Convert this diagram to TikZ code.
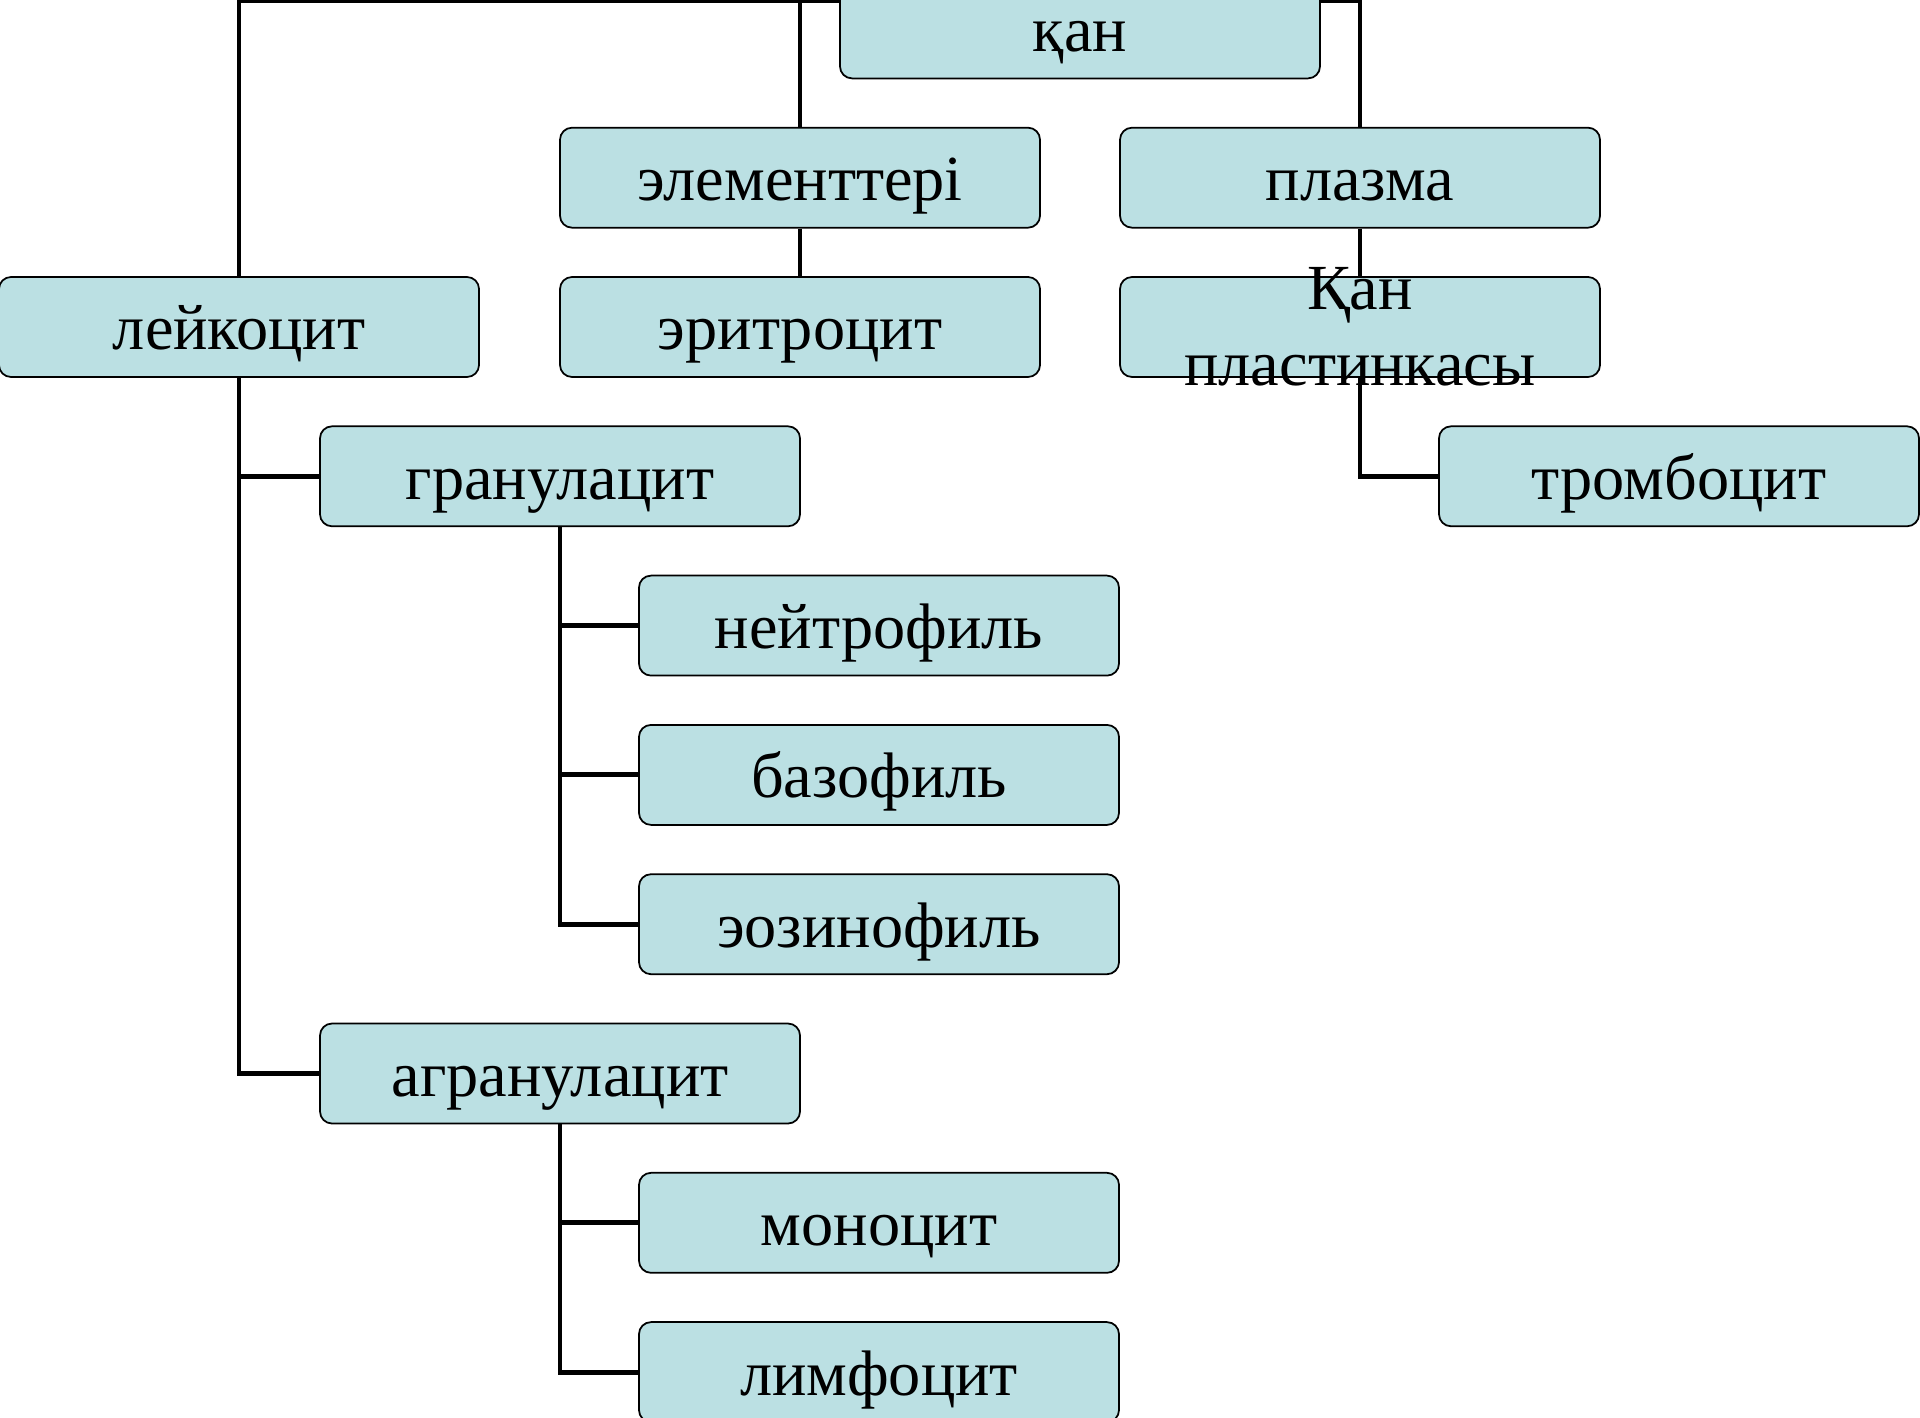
\documentclass[tikz,border=0pt]{standalone}
\usepackage{fontspec}
\setmainfont{Liberation Serif}
\usetikzlibrary{backgrounds}
\definecolor{boxblue}{RGB}{187,224,227}
\begin{document}
\begin{tikzpicture}[
    txt/.style={font=\fontsize{18.3}{21.5}\selectfont},
    cell/.style={draw=black, line width=0.5pt, fill=boxblue, rounded corners=0.12cm,
      minimum width=4.8cm, minimum height=1cm, inner sep=0pt,
      text height=0.6cm, text depth=0.14cm, txt},
    link/.style={line width=1.4pt}
  ]
  \useasboundingbox (0,0) rectangle (19.2,-14.18);

  \node[cell] (qan)    at (10.80,  -0.284) {қан};
  \node[cell] (elem)   at ( 8.00,  -1.777) {элементтері};
  \node[cell] (plazma) at (13.60,  -1.777) {плазма};
  \node[cell] (leik)   at ( 2.39,  -3.270) {лейкоцит};
  \node[cell] (eritr)  at ( 8.00,  -3.270) {эритроцит};
  \node[cell, label={[txt, align=center]center:Қан\\пластинкасы}] (plast) at (13.60, -3.270) {};
  \node[cell] (gran)   at ( 5.60,  -4.763) {гранулацит};
  \node[cell] (tromb)  at (16.79,  -4.763) {тромбоцит};
  \node[cell] (neitr)  at ( 8.79,  -6.256) {нейтрофиль};
  \node[cell] (bazo)   at ( 8.79,  -7.749) {базофиль};
  \node[cell] (eozin)  at ( 8.79,  -9.242) {эозинофиль};
  \node[cell] (agran)  at ( 5.60, -10.735) {агранулацит};
  \node[cell] (mono)   at ( 8.79, -12.228) {моноцит};
  \node[cell] (limf)   at ( 8.79, -13.721) {лимфоцит};

  \coordinate (bar) at (0,-0.01);

  \begin{pgfonlayer}{background}
    \draw[link] (leik.north) -- (leik.north |- bar) -| (plazma.north);
    \draw[link] (elem.north) -- (elem.north |- bar);
    \draw[link] (elem.south) -- (eritr.north);
    \draw[link] (plazma.south) -- (plast.north);
    \draw[link] (plast.south) |- (tromb.west);
    \draw[link] (leik.south) |- (gran.west);
    \draw[link] (leik.south) |- (agran.west);
    \draw[link] (gran.south) |- (neitr.west);
    \draw[link] (gran.south) |- (bazo.west);
    \draw[link] (gran.south) |- (eozin.west);
    \draw[link] (agran.south) |- (mono.west);
    \draw[link] (agran.south) |- (limf.west);
  \end{pgfonlayer}
\end{tikzpicture}
\end{document}
